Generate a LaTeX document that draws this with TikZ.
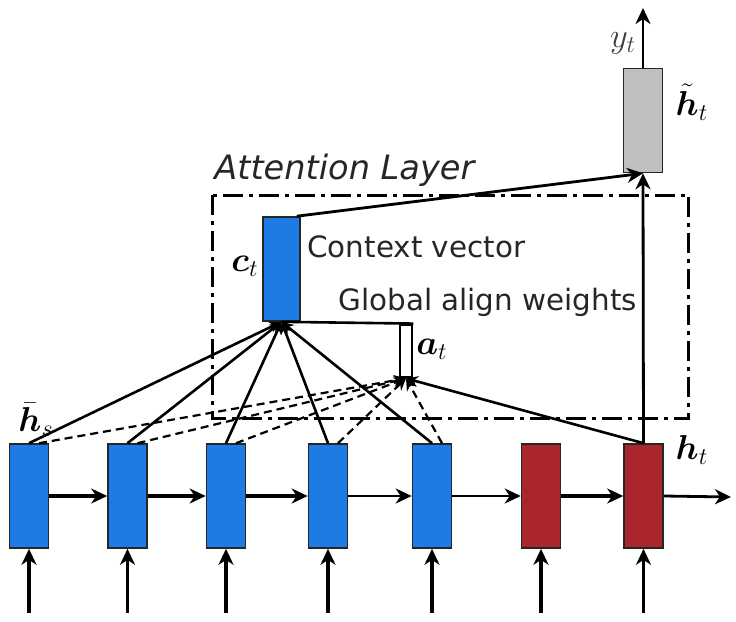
\documentclass[tikz,border=0pt]{standalone}
\usepackage{amsmath}
\usepackage{fontspec}
\newfontfamily\dvs{DejaVu Sans}
\usetikzlibrary{arrows.meta}
\definecolor{cellblue}{RGB}{30,122,228}
\definecolor{cellred}{RGB}{168,38,44}
\definecolor{cellgray}{RGB}{192,192,192}
\tikzset{
  cell/.style={draw=black!85, line width=0.8pt, minimum width=19.5pt, minimum height=52pt, inner sep=0pt},
  bluecell/.style={cell, fill=cellblue},
  redcell/.style={cell, fill=cellred},
  graycell/.style={cell, fill=cellgray},
  arr/.style={line width=1.8pt, -{Stealth[length=8pt,width=7.5pt,inset=2.5pt]}},
  arrthin/.style={line width=1.4pt, -{Stealth[length=8pt,width=7.5pt,inset=2.5pt]}},
  conn/.style={line width=1.3pt, -{Stealth[length=6pt,width=5.5pt]}},
  dconn/.style={line width=1.1pt, dash pattern=on 4pt off 2.5pt, -{Stealth[length=6pt,width=5.5pt]}},
  lbl/.style={font=\dvs\fontsize{14.7}{17}\selectfont, text=black!85, inner sep=0pt},
  mlbl/.style={font=\fontsize{18}{20}\selectfont, inner sep=0pt}
}
\begin{document}
\begin{tikzpicture}[x=0.5pt,y=-0.5pt]
\useasboundingbox (0,0) rectangle (736,622);
% attention layer box
\draw[line width=1.5pt, dash pattern=on 10pt off 3pt on 2pt off 3pt] (213,195) rectangle (689,418);
\node[font=\dvs\itshape\fontsize{16.8}{19}\selectfont, text=black!85, anchor=west, inner sep=0pt] (attlabel) at (214,170) {Attention Layer};
% encoder / decoder cells
\foreach \i/\x/\s in {1/29/bluecell,2/127.5/bluecell,3/226/bluecell,4/328/bluecell,5/432/bluecell,6/541/redcell,7/643.5/redcell}{
  \node[\s] (b\i) at (\x,496) {};
  \coordinate (in\i) at (\x,613);
  \draw[arr] (in\i) -- (b\i.south);
}
\coordinate (out) at (731,497);
\draw[arr] (b1.east) -- (b2.west);
\draw[arr] (b2.east) -- (b3.west);
\draw[arr] (b3.east) -- (b4.west);
\draw[arrthin] (b4.east) -- (b5.west);
\draw[arrthin] (b5.east) -- (b6.west);
\draw[arr] (b6.east) -- (b7.west);
\draw[arrthin] (b7.east) -- (out);
% context vector, align weights, attentional hidden state
\node[bluecell, minimum width=18.5pt] (ct) at (281.5,269) {};
\node[draw=black, line width=1.4pt, fill=white, minimum width=6pt, minimum height=26pt, inner sep=0pt] (at) at (406,351) {};
\node[graycell] (ht) at (643,120.5) {};
\coordinate (yt) at (643,8);
% labels
\node[lbl, anchor=west] (cvl) at (307,247) {Context vector};
\node[lbl, anchor=west] (gawl) at (338,302) {Global align weights};
\node[mlbl] (hsl) at (36,420) {$\bar{\boldsymbol{h}}_s$};
\node[mlbl] (htl) at (692,450) {$\boldsymbol{h}_t$};
\node[mlbl] (ctl) at (245,266) {$\boldsymbol{c}_t$};
\node[mlbl] (atl) at (432,349) {$\boldsymbol{a}_t$};
\node[mlbl] (httl) at (692,102) {$\tilde{\boldsymbol{h}}_t$};
\node[mlbl, text=black!75] (ytl) at (623,43) {$y_t$};
% connectors
\foreach \i in {1,...,5}{
  \draw[conn] (b\i.north) -- (ct.south);
  \draw[dconn] ([xshift=5pt]b\i.north) -- (at.south);
}
\draw[line width=1.3pt] (at.north east) -- (ct.south);
\draw[conn] (b7.north) -- (at.south);
\draw[arrthin] (b7.north) -- (ht.south);
\draw[arrthin] ([xshift=-2pt]ct.north east) -- (ht.south);
\draw[arrthin] (ht.north) -- (yt);
\end{tikzpicture}
\end{document}
